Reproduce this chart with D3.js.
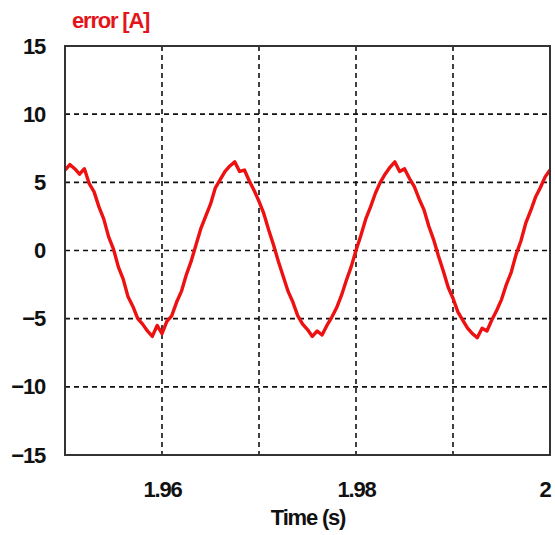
<!DOCTYPE html>
<html>
<head>
<meta charset="utf-8">
<script src="https://cdn.jsdelivr.net/npm/d3@7"></script>
<style>
    body { margin: 0; background: #fff; }
    svg { display: block; }
    text { font-family: "Liberation Sans", Arial, sans-serif; font-weight: bold; letter-spacing: -1.2px; }
</style>
</head>
<body>
<div id="chart"></div>
<script>
// sampled error current, one value every 0.5 ms starting at 1.95 s
const t0 = 1.95;
const dt = 0.0005;
const errorValues = [
    5.9, 6.3, 6.0, 5.6, 6.0, 4.9, 4.3, 3.2, 2.3, 1.0,
    0.1, -1.2, -2.1, -3.4, -4.1, -5.0, -5.4, -5.9, -6.3, -5.5,
    -6.1, -5.2, -4.8, -3.8, -3.0, -1.8, -0.8, 0.4, 1.6, 2.5,
    3.4, 4.6, 5.2, 5.8, 6.2, 6.5, 5.8, 5.9, 5.1, 4.4,
    3.6, 2.7, 1.5, 0.4, -0.8, -1.9, -3.0, -3.8, -4.8, -5.4,
    -5.8, -6.3, -5.9, -6.2, -5.5, -4.9, -4.2, -3.3, -2.2, -1.2,
    0.0, 1.1, 2.3, 3.2, 4.2, 5.0, 5.6, 6.1, 6.5, 5.8,
    6.0, 5.3, 4.7, 3.8, 3.0, 1.8, 0.8, -0.4, -1.5, -2.7,
    -3.5, -4.5, -5.1, -5.7, -6.1, -6.4, -5.7, -5.9, -5.1, -4.4,
    -3.6, -2.5, -1.6, -0.3, 0.7, 2.0, 2.9, 3.9, 4.6, 5.4,
    5.9
];
const xTicks = [1.96, 1.98, 2.0];
const xGrid = [1.96, 1.97, 1.98, 1.99];
const yTicks = [15, 10, 5, 0, -5, -10, -15];
const yGrid = [10, 5, 0, -5, -10];

const width = 555, height = 535;
const margin = { top: 46, right: 5, bottom: 80, left: 65 };
const innerW = width - margin.left - margin.right;
const innerH = height - margin.top - margin.bottom;

const data = errorValues.map((v, i) => ({ t: t0 + i * dt, v }));

const x = d3.scaleLinear().domain([1.95, 2.0]).range([0, innerW]);
const y = d3.scaleLinear().domain([-15, 15]).range([innerH, 0]);

const svg = d3.select("#chart").append("svg")
    .attr("width", width)
    .attr("height", height);

const g = svg.append("g").attr("transform", `translate(${margin.left},${margin.top})`);

// grid
g.append("g").selectAll("line").data(xGrid).join("line")
    .attr("x1", d => x(d)).attr("x2", d => x(d))
    .attr("y1", 0).attr("y2", innerH)
    .attr("stroke", "#111").attr("stroke-width", 1.6).attr("stroke-dasharray", "5,4");
g.append("g").selectAll("line").data(yGrid).join("line")
    .attr("x1", 0).attr("x2", innerW)
    .attr("y1", d => y(d)).attr("y2", d => y(d))
    .attr("stroke", "#111").attr("stroke-width", 1.6).attr("stroke-dasharray", "5,4");

// trace
g.append("path")
    .datum(data)
    .attr("fill", "none")
    .attr("stroke", "#ee1111")
    .attr("stroke-width", 3.4)
    .attr("stroke-linejoin", "round")
    .attr("d", d3.line().x(d => x(d.t)).y(d => y(d.v)));

// frame
g.append("rect")
    .attr("x", 0).attr("y", 0)
    .attr("width", innerW).attr("height", innerH)
    .attr("fill", "none").attr("stroke", "#333").attr("stroke-width", 2);

// axes (labels only)
const yAxis = g.append("g").call(d3.axisLeft(y).tickValues(yTicks).tickSize(0).tickPadding(20));
yAxis.select(".domain").remove();
yAxis.selectAll("text").style("font-size", "22px").attr("fill", "#111");

const xAxis = g.append("g").attr("transform", `translate(0,${innerH})`)
    .call(d3.axisBottom(x).tickValues(xTicks).tickSize(0).tickPadding(26).tickFormat(d3.format("~g")));
xAxis.select(".domain").remove();
xAxis.selectAll("text").style("font-size", "22px").attr("fill", "#111")
    .attr("text-anchor", d => d === 2 ? "end" : "middle");

svg.append("text")
    .attr("x", 72).attr("y", 28)
    .attr("fill", "#e3141b")
    .style("font-size", "22px")
    .text("error [A]");

svg.append("text")
    .attr("x", 308).attr("y", 525)
    .attr("text-anchor", "middle")
    .attr("fill", "#111")
    .style("font-size", "22px")
    .text("Time (s)");
</script>
</body>
</html>
